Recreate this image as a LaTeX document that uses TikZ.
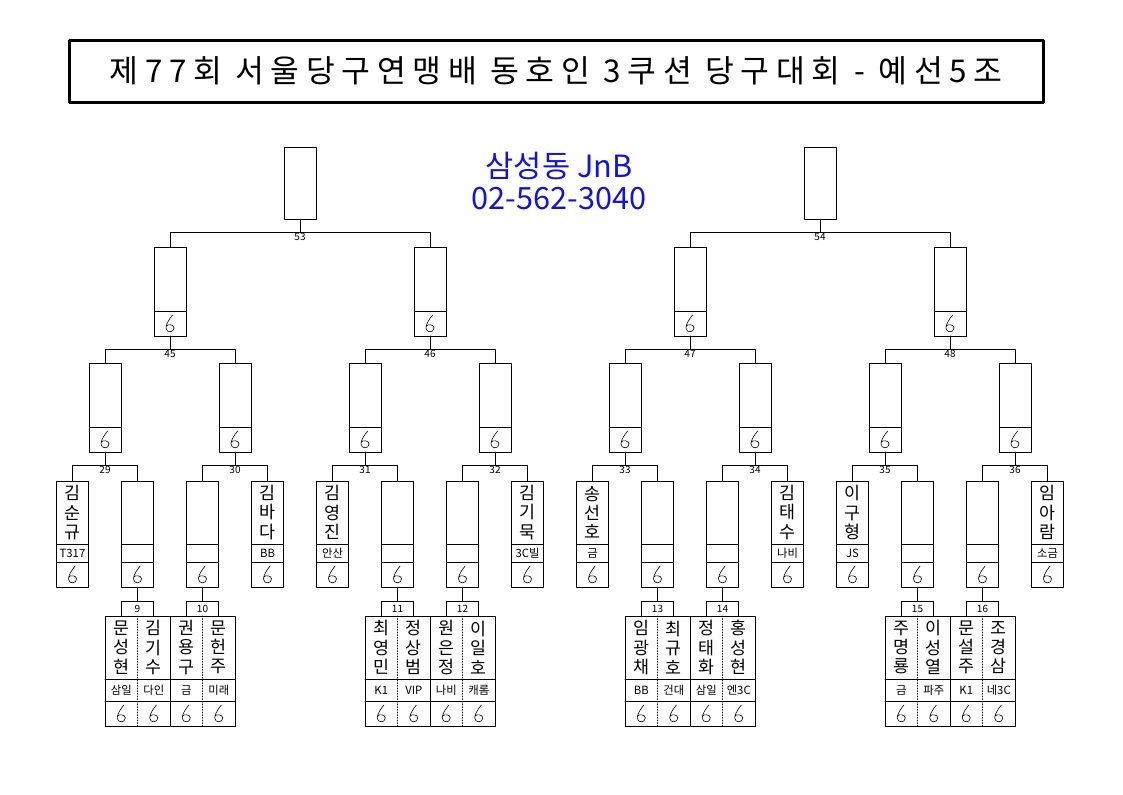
\documentclass[tikz,border=0pt]{standalone}
\usepackage{fontspec}
\setmainfont{Noto Sans CJK KR}
\usetikzlibrary{positioning}

\begin{document}
\begin{tikzpicture}[line cap=round,line join=round,x=0.75pt,y=-0.75pt]
\useasboundingbox (0,0) rectangle (1123,794);
\definecolor{hallblue}{RGB}{20,20,215}
\tikzstyle{cell}=[draw, line width=0.75pt, inner sep=0pt, outer sep=0pt, minimum width=24pt]
\tikzstyle{namecell}=[cell, minimum height=47.25pt, align=center, font=\fontsize{13}{14.5}\selectfont]
\tikzstyle{clubcell}=[cell, minimum height=13.5pt, font=\fontsize{8.5}{9}\selectfont]
\tikzstyle{scorecell}=[cell, minimum height=18.75pt, path picture={\draw[black, line width=0.45pt, shift={(path picture bounding box.center)}] (2pt,6.4pt) .. controls (0pt,4pt) and (-3pt,0pt) .. (-3pt,-3.3pt) .. controls (-3pt,-7.2pt) and (3pt,-7.2pt) .. (3pt,-3.3pt) .. controls (3pt,-0.5pt) and (-2pt,-0.3pt) .. (-2.9pt,-2pt);}]
\tikzstyle{wincell}=[cell, minimum height=48pt]
\tikzstyle{matchno}=[below, inner sep=1pt, font=\fontsize{7.5}{8}\selectfont]
\tikzstyle{boxno}=[cell, minimum height=11.25pt, font=\fontsize{7.5}{8}\selectfont]
\tikzstyle{pairname}=[inner sep=0pt, outer sep=0pt, minimum width=24.375pt, minimum height=47.25pt, align=center, font=\fontsize{13}{14.5}\selectfont]
\tikzstyle{pairclub}=[pairname, minimum height=16.5pt, font=\fontsize{8.5}{9}\selectfont]
\tikzstyle{pairscore}=[scorecell, draw=white, minimum width=24.375pt]
\tikzstyle{pairsep}=[line width=0.6pt, dash pattern=on 0.6pt off 1.4pt]
% title and hall
\node[draw, line width=2.25pt, minimum width=730.5pt, minimum height=46.5pt, inner sep=0pt, font=\fontsize{23.5}{25}\selectfont\addfontfeature{LetterSpace=21}] (title) at (556,71) {제77회 서울당구연맹배 동호인 3쿠션 당구대회 - 예선5조};
\node[text=hallblue, align=center, font=\fontsize{23}{24}\selectfont] (hall) at (559,181) {삼성동 JnB\\02-562-3040};
% final boxes
\node[cell, minimum height=54pt] (t53) at (300,183) {};
\node[cell, minimum height=54pt] (t54) at (820,183) {};
% winners of 45-48
\node[wincell] (t45) at (170,279) {}; \node[scorecell, below=0pt of t45] (s45) {};
\node[wincell] (t46) at (430,279) {}; \node[scorecell, below=0pt of t46] (s46) {};
\node[wincell] (t47) at (690,279) {}; \node[scorecell, below=0pt of t47] (s47) {};
\node[wincell] (t48) at (950,279) {}; \node[scorecell, below=0pt of t48] (s48) {};
% winners of 29-36
\node[wincell] (t29) at (105,395) {}; \node[scorecell, below=0pt of t29] (s29) {};
\node[wincell] (t30) at (235,395) {}; \node[scorecell, below=0pt of t30] (s30) {};
\node[wincell] (t31) at (365,395) {}; \node[scorecell, below=0pt of t31] (s31) {};
\node[wincell] (t32) at (495,395) {}; \node[scorecell, below=0pt of t32] (s32) {};
\node[wincell] (t33) at (625,395) {}; \node[scorecell, below=0pt of t33] (s33) {};
\node[wincell] (t34) at (755,395) {}; \node[scorecell, below=0pt of t34] (s34) {};
\node[wincell] (t35) at (885,395) {}; \node[scorecell, below=0pt of t35] (s35) {};
\node[wincell] (t36) at (1015,395) {}; \node[scorecell, below=0pt of t36] (s36) {};
% first row
\node[namecell] (ny29) at (72.5,512.5) {김\\순\\규}; \node[clubcell, below=0pt of ny29] (cy29) {T317}; \node[scorecell, below=0pt of cy29] (sy29) {};
\node[namecell] (t9) at (137.5,512.5) {}; \node[clubcell, below=0pt of t9] (c9) {}; \node[scorecell, below=0pt of c9] (s9) {};
\node[namecell] (t10) at (202.5,512.5) {}; \node[clubcell, below=0pt of t10] (c10) {}; \node[scorecell, below=0pt of c10] (s10) {};
\node[namecell] (ny30) at (267.5,512.5) {김\\바\\다}; \node[clubcell, below=0pt of ny30] (cy30) {BB}; \node[scorecell, below=0pt of cy30] (sy30) {};
\node[namecell] (ny31) at (332.5,512.5) {김\\영\\진}; \node[clubcell, below=0pt of ny31] (cy31) {안산}; \node[scorecell, below=0pt of cy31] (sy31) {};
\node[namecell] (t11) at (397.5,512.5) {}; \node[clubcell, below=0pt of t11] (c11) {}; \node[scorecell, below=0pt of c11] (s11) {};
\node[namecell] (t12) at (462.5,512.5) {}; \node[clubcell, below=0pt of t12] (c12) {}; \node[scorecell, below=0pt of c12] (s12) {};
\node[namecell] (ny32) at (527.5,512.5) {김\\기\\묵}; \node[clubcell, below=0pt of ny32] (cy32) {3C빌}; \node[scorecell, below=0pt of cy32] (sy32) {};
\node[namecell] (ny33) at (592.5,512.5) {송\\선\\호}; \node[clubcell, below=0pt of ny33] (cy33) {금}; \node[scorecell, below=0pt of cy33] (sy33) {};
\node[namecell] (t13) at (657.5,512.5) {}; \node[clubcell, below=0pt of t13] (c13) {}; \node[scorecell, below=0pt of c13] (s13) {};
\node[namecell] (t14) at (722.5,512.5) {}; \node[clubcell, below=0pt of t14] (c14) {}; \node[scorecell, below=0pt of c14] (s14) {};
\node[namecell] (ny34) at (787.5,512.5) {김\\태\\수}; \node[clubcell, below=0pt of ny34] (cy34) {나비}; \node[scorecell, below=0pt of cy34] (sy34) {};
\node[namecell] (ny35) at (852.5,512.5) {이\\구\\형}; \node[clubcell, below=0pt of ny35] (cy35) {JS}; \node[scorecell, below=0pt of cy35] (sy35) {};
\node[namecell] (t15) at (917.5,512.5) {}; \node[clubcell, below=0pt of t15] (c15) {}; \node[scorecell, below=0pt of c15] (s15) {};
\node[namecell] (t16) at (982.5,512.5) {}; \node[clubcell, below=0pt of t16] (c16) {}; \node[scorecell, below=0pt of c16] (s16) {};
\node[namecell] (ny36) at (1047.5,512.5) {임\\아\\람}; \node[clubcell, below=0pt of ny36] (cy36) {소금}; \node[scorecell, below=0pt of cy36] (sy36) {};
% bracket lines
\draw (t45.north) -- ++(0,-15) coordinate (j53) -| (t46.north); \draw (t53.south) -- (t53.south |- j53) node[matchno] {53};
\draw (t47.north) -- ++(0,-15) coordinate (j54) -| (t48.north); \draw (t54.south) -- (t54.south |- j54) node[matchno] {54};
\draw (t29.north) -- ++(0,-14) coordinate (j45) -| (t30.north); \draw (s45.south) -- (s45.south |- j45) node[matchno] {45};
\draw (t31.north) -- ++(0,-14) coordinate (j46) -| (t32.north); \draw (s46.south) -- (s46.south |- j46) node[matchno] {46};
\draw (t33.north) -- ++(0,-14) coordinate (j47) -| (t34.north); \draw (s47.south) -- (s47.south |- j47) node[matchno] {47};
\draw (t35.north) -- ++(0,-14) coordinate (j48) -| (t36.north); \draw (s48.south) -- (s48.south |- j48) node[matchno] {48};
\draw (ny29.north) -- ++(0,-16) coordinate (j29) -| (t9.north); \draw (s29.south) -- (s29.south |- j29) node[matchno] {29};
\draw (t10.north) -- ++(0,-16) coordinate (j30) -| (ny30.north); \draw (s30.south) -- (s30.south |- j30) node[matchno] {30};
\draw (ny31.north) -- ++(0,-16) coordinate (j31) -| (t11.north); \draw (s31.south) -- (s31.south |- j31) node[matchno] {31};
\draw (t12.north) -- ++(0,-16) coordinate (j32) -| (ny32.north); \draw (s32.south) -- (s32.south |- j32) node[matchno] {32};
\draw (ny33.north) -- ++(0,-16) coordinate (j33) -| (t13.north); \draw (s33.south) -- (s33.south |- j33) node[matchno] {33};
\draw (t14.north) -- ++(0,-16) coordinate (j34) -| (ny34.north); \draw (s34.south) -- (s34.south |- j34) node[matchno] {34};
\draw (ny35.north) -- ++(0,-16) coordinate (j35) -| (t15.north); \draw (s35.south) -- (s35.south |- j35) node[matchno] {35};
\draw (t16.north) -- ++(0,-16) coordinate (j36) -| (ny36.north); \draw (s36.south) -- (s36.south |- j36) node[matchno] {36};
% pairs 9-16
\node[boxno, below=10.5pt of s9] (m9) {9}; \draw (s9.south) -- (m9.north);
\node[pairname] (n9a) at (121.25,647.5) {문\\성\\현}; \node[pairclub, below=0pt of n9a] (c9a) {삼일}; \node[pairscore, below=0pt of c9a] (s9a) {};
\node[pairname] (n9b) at (153.75,647.5) {김\\기\\수}; \node[pairclub, below=0pt of n9b] (c9b) {다인}; \node[pairscore, below=0pt of c9b] (s9b) {};
\draw (n9a.north west) rectangle (s9b.south east) (c9a.north west) -- (c9b.north east) (s9a.north west) -- (s9b.north east);
\draw[pairsep] (n9a.north east) -- (s9a.south east);
\node[boxno, below=10.5pt of s10] (m10) {10}; \draw (s10.south) -- (m10.north);
\node[pairname] (n10a) at (186.25,647.5) {권\\용\\구}; \node[pairclub, below=0pt of n10a] (c10a) {금}; \node[pairscore, below=0pt of c10a] (s10a) {};
\node[pairname] (n10b) at (218.75,647.5) {문\\헌\\주}; \node[pairclub, below=0pt of n10b] (c10b) {미래}; \node[pairscore, below=0pt of c10b] (s10b) {};
\draw (n10a.north west) rectangle (s10b.south east) (c10a.north west) -- (c10b.north east) (s10a.north west) -- (s10b.north east);
\draw[pairsep] (n10a.north east) -- (s10a.south east);
\node[boxno, below=10.5pt of s11] (m11) {11}; \draw (s11.south) -- (m11.north);
\node[pairname] (n11a) at (381.25,647.5) {최\\영\\민}; \node[pairclub, below=0pt of n11a] (c11a) {K1}; \node[pairscore, below=0pt of c11a] (s11a) {};
\node[pairname] (n11b) at (413.75,647.5) {정\\상\\범}; \node[pairclub, below=0pt of n11b] (c11b) {VIP}; \node[pairscore, below=0pt of c11b] (s11b) {};
\draw (n11a.north west) rectangle (s11b.south east) (c11a.north west) -- (c11b.north east) (s11a.north west) -- (s11b.north east);
\draw[pairsep] (n11a.north east) -- (s11a.south east);
\node[boxno, below=10.5pt of s12] (m12) {12}; \draw (s12.south) -- (m12.north);
\node[pairname] (n12a) at (446.25,647.5) {원\\은\\정}; \node[pairclub, below=0pt of n12a] (c12a) {나비}; \node[pairscore, below=0pt of c12a] (s12a) {};
\node[pairname] (n12b) at (478.75,647.5) {이\\일\\호}; \node[pairclub, below=0pt of n12b] (c12b) {캐롬}; \node[pairscore, below=0pt of c12b] (s12b) {};
\draw (n12a.north west) rectangle (s12b.south east) (c12a.north west) -- (c12b.north east) (s12a.north west) -- (s12b.north east);
\draw[pairsep] (n12a.north east) -- (s12a.south east);
\node[boxno, below=10.5pt of s13] (m13) {13}; \draw (s13.south) -- (m13.north);
\node[pairname] (n13a) at (641.25,647.5) {임\\광\\채}; \node[pairclub, below=0pt of n13a] (c13a) {BB}; \node[pairscore, below=0pt of c13a] (s13a) {};
\node[pairname] (n13b) at (673.75,647.5) {최\\규\\호}; \node[pairclub, below=0pt of n13b] (c13b) {건대}; \node[pairscore, below=0pt of c13b] (s13b) {};
\draw (n13a.north west) rectangle (s13b.south east) (c13a.north west) -- (c13b.north east) (s13a.north west) -- (s13b.north east);
\draw[pairsep] (n13a.north east) -- (s13a.south east);
\node[boxno, below=10.5pt of s14] (m14) {14}; \draw (s14.south) -- (m14.north);
\node[pairname] (n14a) at (706.25,647.5) {정\\태\\화}; \node[pairclub, below=0pt of n14a] (c14a) {삼일}; \node[pairscore, below=0pt of c14a] (s14a) {};
\node[pairname] (n14b) at (738.75,647.5) {홍\\성\\현}; \node[pairclub, below=0pt of n14b] (c14b) {엔3C}; \node[pairscore, below=0pt of c14b] (s14b) {};
\draw (n14a.north west) rectangle (s14b.south east) (c14a.north west) -- (c14b.north east) (s14a.north west) -- (s14b.north east);
\draw[pairsep] (n14a.north east) -- (s14a.south east);
\node[boxno, below=10.5pt of s15] (m15) {15}; \draw (s15.south) -- (m15.north);
\node[pairname] (n15a) at (901.25,647.5) {주\\명\\룡}; \node[pairclub, below=0pt of n15a] (c15a) {금}; \node[pairscore, below=0pt of c15a] (s15a) {};
\node[pairname] (n15b) at (933.75,647.5) {이\\성\\열}; \node[pairclub, below=0pt of n15b] (c15b) {파주}; \node[pairscore, below=0pt of c15b] (s15b) {};
\draw (n15a.north west) rectangle (s15b.south east) (c15a.north west) -- (c15b.north east) (s15a.north west) -- (s15b.north east);
\draw[pairsep] (n15a.north east) -- (s15a.south east);
\node[boxno, below=10.5pt of s16] (m16) {16}; \draw (s16.south) -- (m16.north);
\node[pairname] (n16a) at (966.25,647.5) {문\\설\\주}; \node[pairclub, below=0pt of n16a] (c16a) {K1}; \node[pairscore, below=0pt of c16a] (s16a) {};
\node[pairname] (n16b) at (998.75,647.5) {조\\경\\삼}; \node[pairclub, below=0pt of n16b] (c16b) {네3C}; \node[pairscore, below=0pt of c16b] (s16b) {};
\draw (n16a.north west) rectangle (s16b.south east) (c16a.north west) -- (c16b.north east) (s16a.north west) -- (s16b.north east);
\draw[pairsep] (n16a.north east) -- (s16a.south east);
\end{tikzpicture}
\end{document}
